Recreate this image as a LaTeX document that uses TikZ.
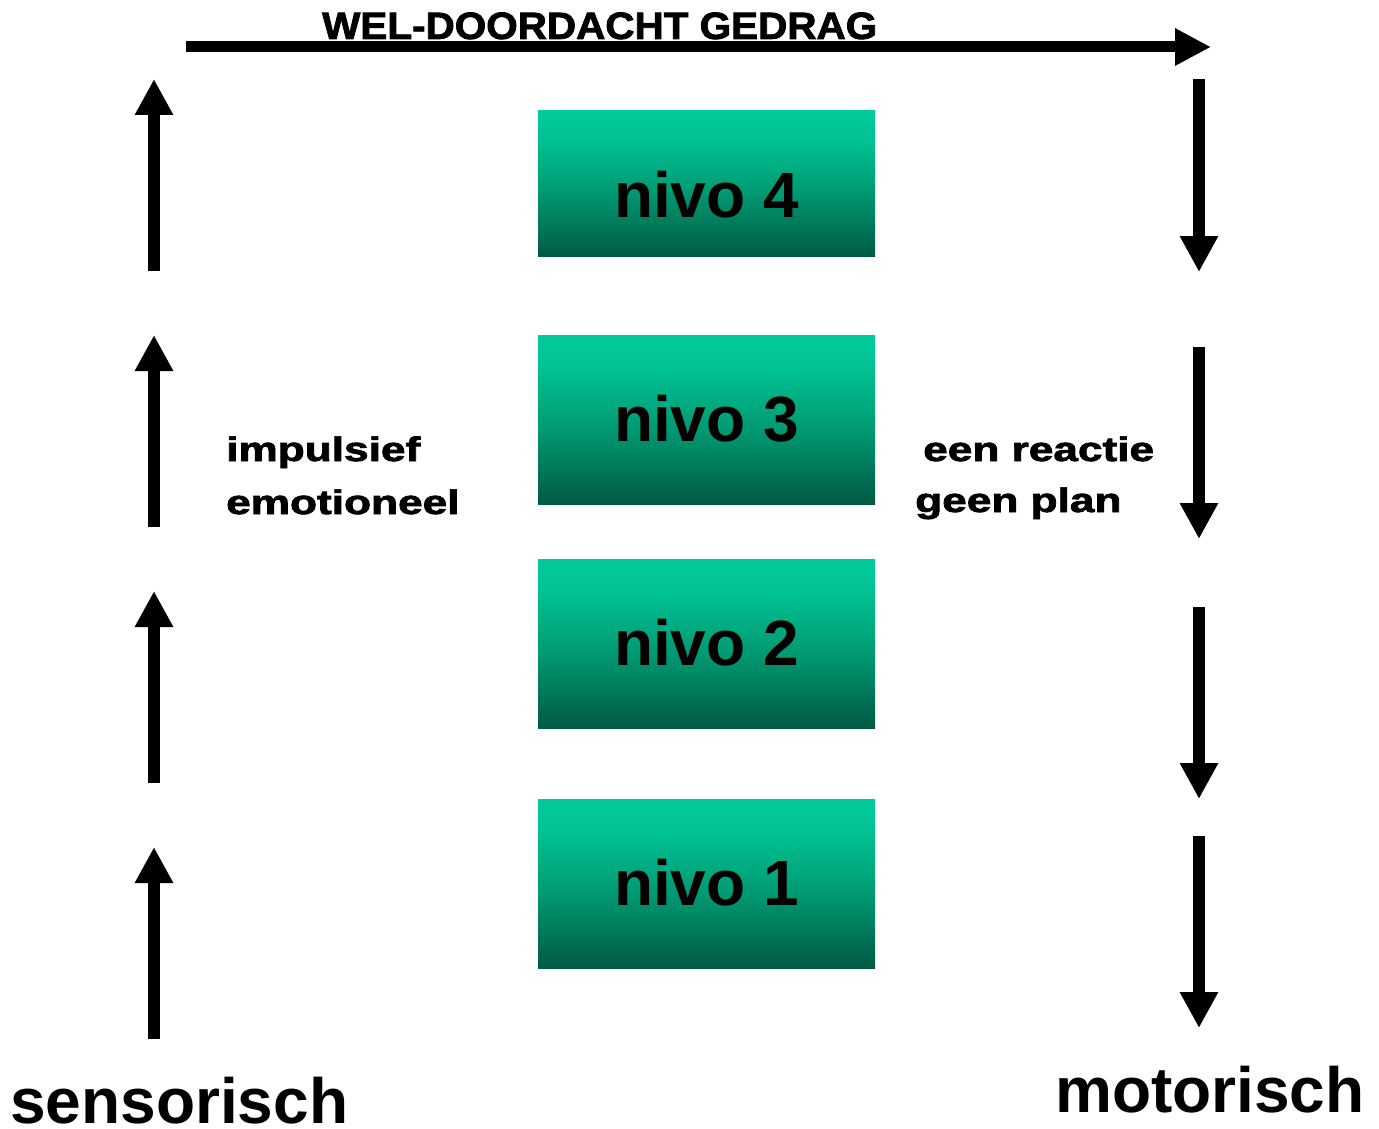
\documentclass[tikz,border=0pt]{standalone}
\usepackage{fontspec}
\setmainfont{Liberation Sans}
\newfontfamily\heavyfont[BoldFeatures={FakeBold=2}]{Liberation Sans}
\usetikzlibrary{arrows.meta}
\definecolor{nivotop}{RGB}{0,204,153}
\definecolor{nivoup}{RGB}{0,194,146}
\definecolor{nivomid}{RGB}{0,156,116}
\definecolor{nivobot}{RGB}{0,90,68}
\pgfdeclareverticalshading{nivoshade}{100bp}{color(0bp)=(nivobot); color(25bp)=(nivobot); color(48bp)=(nivomid); color(65bp)=(nivoup); color(75bp)=(nivotop); color(100bp)=(nivotop)}
\newcommand{\sidetxt}[1]{\scalebox{1.3}[1]{\fontsize{34}{34}\selectfont\heavyfont\bfseries #1}}
\begin{document}
\begin{tikzpicture}[x=1pt,y=-1pt,
  bigarrow/.style={line width=11.5pt,-{Triangle[length=36pt,width=36pt]}},
  nivobox/.style={rectangle,inner sep=0pt,minimum width=337pt,shading=nivoshade},
  nivolabel/.style={anchor=base,inner sep=0pt,font=\fontsize{64}{64}\selectfont\bfseries},
  sidetext/.style={anchor=base west,inner sep=0pt},
  endtext/.style={anchor=base west,inner sep=0pt,font=\fontsize{64}{64}\selectfont\bfseries}]
\useasboundingbox (0,0) rectangle (1379,1129);
\fill[white] (0,0) rectangle (1379,1129);

% top arrow
\coordinate (ts) at (186,47);
\coordinate (te) at (1211,47);
\draw[line width=11pt,-{Triangle[length=36pt,width=35pt]}] (ts) -- (te);
\node[anchor=south west,inner sep=0pt] (title) at (322,39.5)
  {\resizebox{555pt}{26.5pt}{\heavyfont\bfseries WEL-DOORDACHT GEDRAG}};

% boxes
\node[nivobox,minimum height=145pt] (b4) at (706.5,183.5) {};
\node[nivobox,minimum height=169pt] (b3) at (706.5,419.5) {};
\node[nivobox,minimum height=169pt] (b2) at (706.5,643.5) {};
\node[nivobox,minimum height=169pt] (b1) at (706.5,883.5) {};
\node[nivolabel] (t4) at (706.5,217) {nivo 4};
\node[nivolabel] (t3) at (706.5,441) {nivo 3};
\node[nivolabel] (t2) at (706.5,665) {nivo 2};
\node[nivolabel] (t1) at (706.5,905) {nivo 1};

% left arrows (up)
\coordinate (l1b) at (154,271);  \coordinate (l1t) at (154,79);
\coordinate (l2b) at (154,527);  \coordinate (l2t) at (154,335);
\coordinate (l3b) at (154,783);  \coordinate (l3t) at (154,591);
\coordinate (l4b) at (154,1039); \coordinate (l4t) at (154,847);
\draw[bigarrow] (l1b) -- (l1t);
\draw[bigarrow] (l2b) -- (l2t);
\draw[bigarrow] (l3b) -- (l3t);
\draw[bigarrow] (l4b) -- (l4t);

% right arrows (down)
\coordinate (r1t) at (1199,79);  \coordinate (r1b) at (1199,272);
\coordinate (r2t) at (1199,347); \coordinate (r2b) at (1199,539);
\coordinate (r3t) at (1199,607); \coordinate (r3b) at (1199,799);
\coordinate (r4t) at (1199,836); \coordinate (r4b) at (1199,1028);
\draw[bigarrow] (r1t) -- (r1b);
\draw[bigarrow] (r2t) -- (r2b);
\draw[bigarrow] (r3t) -- (r3b);
\draw[bigarrow] (r4t) -- (r4b);

% side texts
\node[sidetext] (imp) at (226,461) {\sidetxt{impulsief}};
\node[sidetext] (emo) at (226,514) {\sidetxt{emotioneel}};
\node[sidetext] (een) at (923,461) {\sidetxt{een reactie}};
\node[sidetext] (geen) at (915,512) {\sidetxt{geen plan}};

% bottom texts
\node[endtext] (sens) at (10,1123) {sensorisch};
\node[endtext] (mot) at (1055,1112) {motorisch};
\end{tikzpicture}
\end{document}
